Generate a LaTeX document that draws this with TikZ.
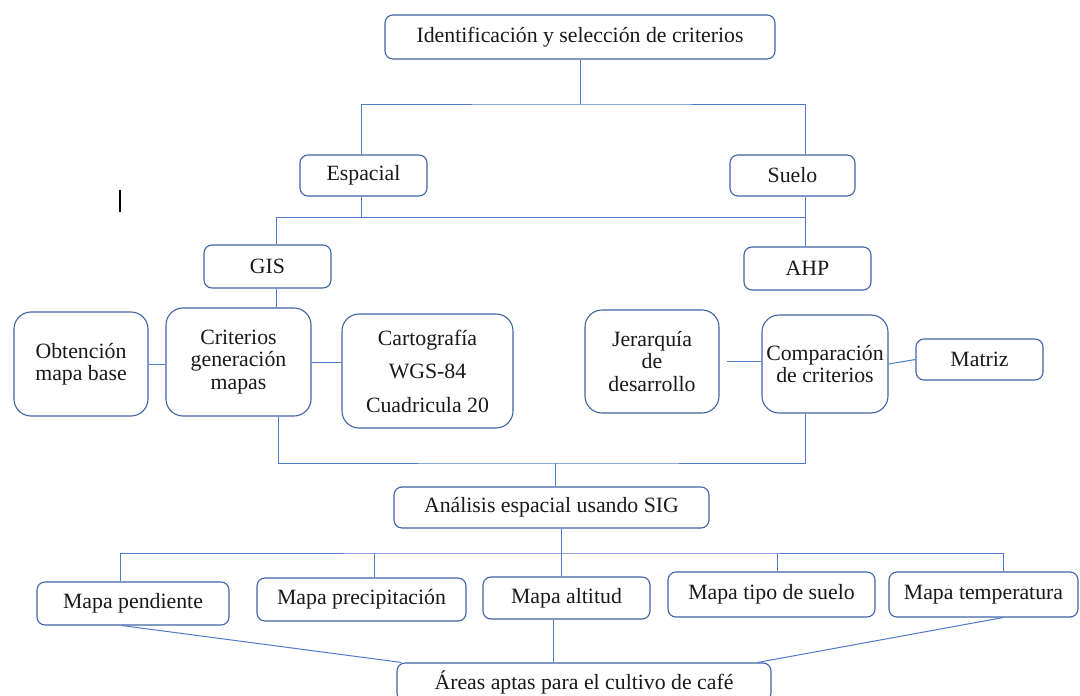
\documentclass[tikz,border=0pt]{standalone}
\usepackage{fontspec}
\setmainfont{Liberation Serif}
\usepackage{tikz}
\definecolor{borde}{RGB}{62,100,165}
\definecolor{linea}{RGB}{78,122,204}
\definecolor{texto}{RGB}{25,25,25}

\begin{document}
\begin{tikzpicture}[x=1pt,y=-1pt,font=\fontsize{21.8}{22.5}\selectfont]
		\tikzstyle{caja}=[draw=borde,line width=1.1pt,rounded corners=8pt,inner sep=0pt,text=texto,align=center]
		\tikzstyle{cajaalta}=[caja,rounded corners=17pt]
		\tikzstyle{enlace}=[draw=linea,line width=1pt]
		\path[use as bounding box,clip] (0,0) rectangle (1080,696);

		\node[caja,minimum width=390,minimum height=44] (ident) at (580,37) {Identificación y selección de criterios};
		\node[caja,minimum width=127,minimum height=41] (esp) at (363.5,175.5) {Espacial};
		\node[caja,minimum width=125,minimum height=41] (suelo) at (792.5,175.5) {Suelo};
		\node[caja,minimum width=127,minimum height=43] (gis) at (267.5,266.5) {GIS};
		\node[caja,minimum width=127,minimum height=43] (ahp) at (807.5,268.5) {AHP};
		\node[cajaalta,minimum width=134,minimum height=104] (obt) at (81,364) {Obtención\\mapa base};
		\node[cajaalta,minimum width=145,minimum height=108] (crit) at (238.5,362) {Criterios\\generación\\mapas};
		\node[cajaalta,minimum width=171,minimum height=114] (carto) at (427.5,371) {Cartografía\\[11pt]WGS-84\\[11pt]Cuadricula 20};
		\node[cajaalta,minimum width=134,minimum height=103] (jer) at (652,361.5) {Jerarquía\\de\\desarrollo};
		\node[cajaalta,minimum width=126,minimum height=98] (comp) at (825,364) {Comparación\\de criterios};
		\node[caja,minimum width=127,minimum height=41] (matriz) at (979.5,359.5) {Matriz};
		\node[caja,minimum width=315,minimum height=41] (anal) at (551.5,507.5) {Análisis espacial usando SIG};
		\node[caja,minimum width=192,minimum height=43] (pend) at (133,603.5) {Mapa pendiente};
		\node[caja,minimum width=209,minimum height=43] (prec) at (361.5,599.5) {Mapa precipitación};
		\node[caja,minimum width=167,minimum height=42] (alt) at (566.5,598) {Mapa altitud};
		\node[caja,minimum width=207,minimum height=45] (tipo) at (771.5,594.5) {Mapa tipo de suelo};
		\node[caja,minimum width=189,minimum height=45] (temp) at (983.5,594.5) {Mapa temperatura};
		\node[caja,minimum width=374,minimum height=38] (areas) at (584,682) {Áreas aptas para el cultivo de café};

		% ejes verticales de las uniones
		\coordinate (xe) at (361,0);
		\coordinate (xs) at (805,0);
		\coordinate (xg) at (276,0);
		\coordinate (xc) at (278,0);
		\coordinate (xa) at (561,0);
		\coordinate (xp) at (120,0);
		\coordinate (xr) at (374,0);
		\coordinate (xt) at (777,0);
		\coordinate (xm) at (1003,0);
		\coordinate (b1) at (580,104);
		\coordinate (b2) at (805,217);
		\coordinate (b3) at (555,463);
		\coordinate (b4) at (561,553);
		\coordinate (cursor) at (120,190);

		\draw[enlace] (ident) -- (b1);
		\draw[enlace] (esp.north -| xe) |- (b1) -| (suelo.north -| xs);
		\draw[enlace] (esp.south -| xe) -- (b2 -| xe);
		\draw[enlace] (suelo.south -| xs) -- (ahp.north -| xs);
		\draw[enlace] (gis.north -| xg) |- (b2);
		\draw[enlace] (gis.south -| xg) -- (crit.north -| xg);
		\draw[enlace] (obt.east) -- (crit.west |- obt.east);
		\draw[enlace] (crit.east) -- (carto.west |- crit.east);
		\draw[enlace] ([xshift=7pt]jer.east) -- (comp.west |- jer.east);
		\draw[enlace] (comp.east) -- (matriz.west);
		\draw[enlace] (crit.south -| xc) |- (b3) -| (comp.south -| xs);
		\draw[enlace] (b3) -- (anal.north -| b3);
		\draw[enlace] (anal.south -| xa) -- (alt.north -| xa);
		\draw[enlace] (pend.north -| xp) |- (b4) -| (tipo.north -| xm);
		\draw[enlace] (prec.north -| xr) -- (b4 -| xr);
		\draw[enlace] (tipo.north -| xt) -- (b4 -| xt);
		\draw[enlace] (temp.north -| xm) -- (b4 -| xm);
		\draw[enlace] (pend.south -| 122,0) -- ([xshift=5pt]areas.north west);
		\draw[enlace] (alt.south -| 553,0) -- (areas.north -| 553,0);
		\draw[enlace] (temp.south -| xm) -- ([xshift=-14pt]areas.north east);
		\draw[black,line width=1.3pt] (cursor) -- ++(0,22);

	\end{tikzpicture}
\end{document}
